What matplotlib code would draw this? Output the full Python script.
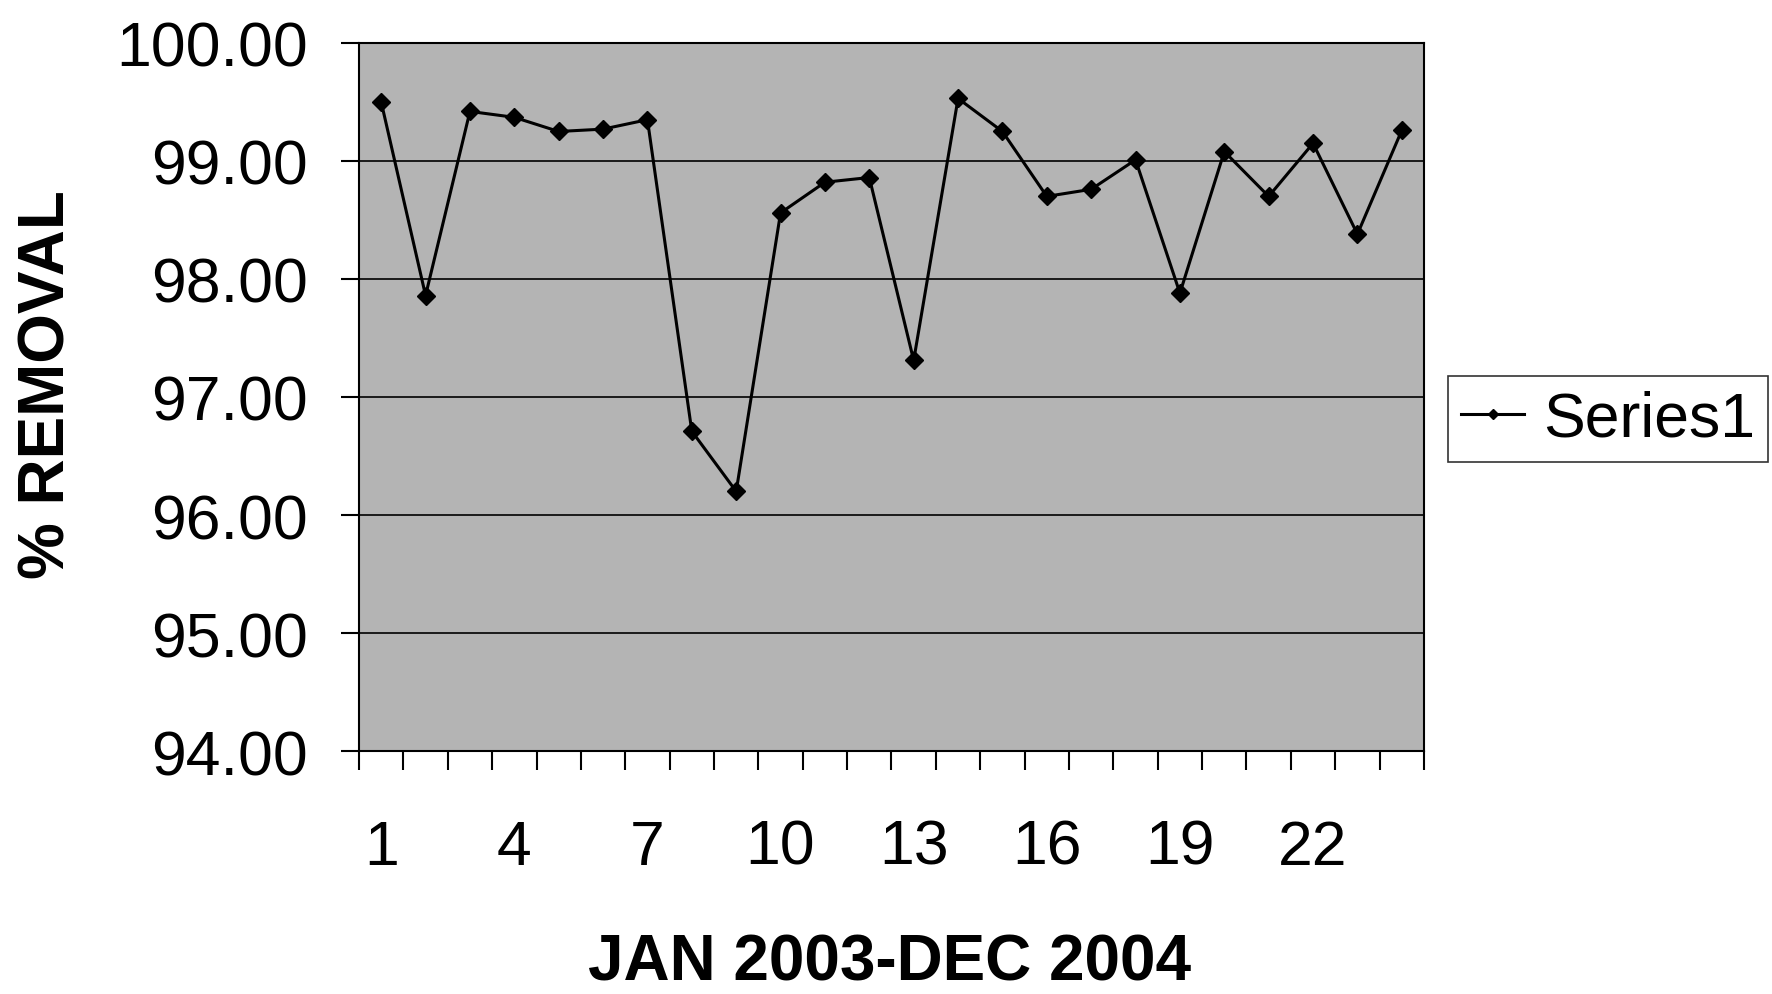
import numpy as np
from matplotlib import pyplot as plt

plt.rcParams['font.family'] = ['Liberation Sans', 'DejaVu Sans']

# 24 months, Jan 2003 - Dec 2004
months = list(range(1, 25))
removal = [99.50, 97.86, 99.42, 99.37, 99.25, 99.27, 99.35, 96.71,
           96.20, 98.56, 98.82, 98.86, 97.31, 99.53, 99.25, 98.70,
           98.76, 99.01, 97.88, 99.08, 98.70, 99.15, 98.38, 99.26]
yticks = [94, 95, 96, 97, 98, 99, 100]
xlabels = [1, 4, 7, 10, 13, 16, 19, 22]

fig = plt.figure(figsize=(17.72, 9.95), dpi=100)
ax = fig.add_axes([0.2026, 0.2442, 0.601, 0.7116])
ax.set_facecolor('#b4b4b4')

ax.plot(months, removal, color='black', lw=2.2, marker='D', markersize=9,
        label='Series1')

ax.set_ylim(94, 100)
ax.set_xlim(0.5, 24.5)
ax.set_yticks(yticks)
ax.set_yticklabels(['%.2f' % v for v in yticks])
ax.yaxis.grid(True, color='black', lw=1.2)
ax.set_axisbelow(True)

ax.set_xticks(xlabels)
ax.set_xticks(np.arange(0.5, 25, 1), minor=True)
ax.tick_params(axis='x', which='major', length=0, pad=48, labelsize=45)
ax.tick_params(axis='x', which='minor', length=14, width=1.5, direction='out')
ax.tick_params(axis='y', length=13, width=1.5, pad=24, labelsize=45)

for s in ax.spines.values():
    s.set_color('black')
    s.set_linewidth(1.5)

fig.text(0.027, 0.614, '% REMOVAL', rotation=90, fontsize=46,
         fontweight='bold', ha='center', va='center')
fig.text(0.502, 0.032, 'JAN 2003-DEC 2004', fontsize=46,
         fontweight='bold', ha='center', va='center')

leg = ax.legend(loc='center left', bbox_to_anchor=(0.817, 0.578),
                bbox_transform=fig.transFigure, fontsize=45, frameon=True,
                fancybox=False, edgecolor='black', handlelength=1.0,
                borderpad=0.22, borderaxespad=0, handletextpad=0.3,
                markerscale=0.6)
leg.get_frame().set_linewidth(1.2)

fig.savefig('out.png', dpi=100, facecolor='white')
